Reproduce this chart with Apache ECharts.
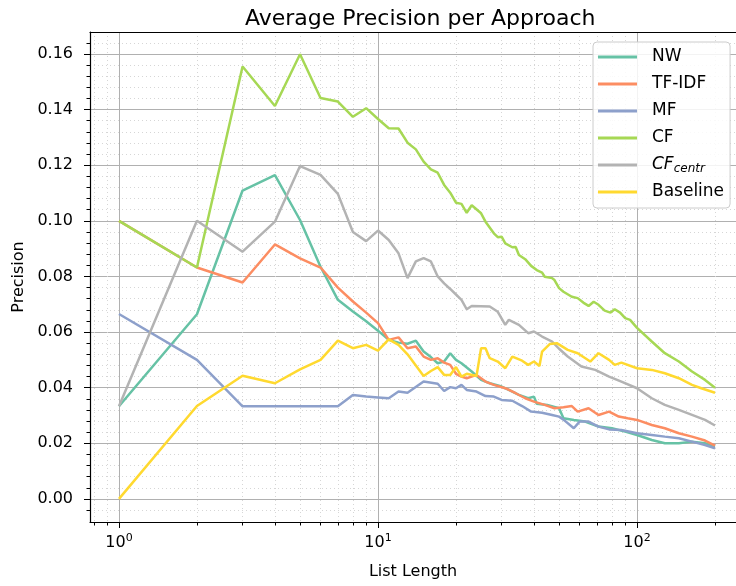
<!DOCTYPE html>
<html>
<head>
<meta charset="utf-8">
<script src="https://cdn.jsdelivr.net/npm/echarts@6/dist/echarts.min.js"></script>
<style>
html, body { margin: 0; padding: 0; background: #fff; }
#chart { width: 736px; height: 586px; }
</style>
</head>
<body>
<div id="chart"></div>
<script>
var seriesNames = ['NW', 'TF-IDF', 'MF', 'CF', 'CFcentr', 'Baseline'];
var colorList = ['#66c2a5', '#fc8d62', '#8da0cb', '#a6d854', '#b3b3b3', '#ffd92f'];

// [list length, precision]
var nwData = [[1,0.0333],[2,0.0664],[3,0.1109],[4,0.1164],[5,0.1003],[6,0.0835],[7,0.0716],[8,0.0674],[9,0.0639],[10,0.0605],
    [11,0.0572],[12,0.0562],[13,0.0558],[14,0.0569],[15,0.053],[16,0.051],[17,0.0488],[18,0.0494],[19,0.0524],[20,0.050],
    [21,0.0488],[23,0.0458],[25,0.0428],[27,0.0416],[30,0.0404],[32,0.0392],[35,0.0374],[38,0.0362],[40,0.0368],[41,0.0342],
    [45,0.0338],[50,0.0326],[52,0.0290],[57,0.0284],[63,0.0278],[71,0.026],[80,0.0254],[90,0.0242],[100,0.023],[114,0.0212],
    [128,0.020],[145,0.020],[163,0.0206],[183,0.020],[200,0.0188]];
var tfidfData = [[1,0.1],[2,0.0832],[3,0.0778],[4,0.0915],[5,0.0865],[6,0.0832],[7,0.076],[8,0.071],[9,0.067],[10,0.0632],
    [11,0.0572],[12,0.0581],[13,0.0542],[14,0.0548],[15,0.0512],[16,0.050],[17,0.0506],[18,0.0490],[19,0.0482],[20,0.0450],
    [21,0.044],[22,0.0434],[24,0.0446],[26,0.0422],[28,0.041],[31,0.0398],[34,0.038],[37,0.0362],[40,0.035],[44,0.0338],
    [48,0.0326],[52,0.033],[56,0.0334],[59,0.0314],[65,0.0326],[71,0.0302],[78,0.0314],[85,0.0296],[92,0.029],[100,0.0284],
    [114,0.0266],[128,0.0254],[145,0.0236],[163,0.0224],[183,0.021],[200,0.0192]];
var mfData = [[1,0.0665],[2,0.050],[3,0.0333],[4,0.0333],[5,0.0333],[6,0.0333],[7,0.0333],[8,0.0374],[9,0.0368],[10,0.0365],
    [11,0.0362],[12,0.0386],[13,0.0382],[15,0.0422],[17,0.0414],[18,0.0388],[19,0.0402],[20,0.0398],[21,0.041],[22,0.0392],
    [24,0.0386],[26,0.037],[28,0.0368],[30,0.0356],[33,0.0353],[36,0.0334],[39,0.0314],[43,0.031],[47,0.0302],[50,0.0296],
    [52,0.0285],[57,0.0254],[60,0.0278],[65,0.0278],[71,0.026],[78,0.025],[87,0.0248],[100,0.0236],[114,0.023],[128,0.0224],
    [145,0.0218],[163,0.0206],[183,0.0194],[200,0.0182]];
var cfData = [[1,0.1],[2,0.0832],[3,0.1555],[4,0.1413],[5,0.1599],[6,0.1442],[7,0.1429],[8,0.1374],[9,0.1405],[10,0.1366],
    [11,0.1333],[12,0.1332],[13,0.1281],[14,0.1257],[15,0.1213],[16,0.1185],[17,0.1173],[18,0.1129],[19,0.1101],[20,0.1065],
    [21,0.1061],[22,0.1029],[23,0.1056],[25,0.1027],[26,0.0997],[28,0.0955],[29,0.0941],[30,0.0943],[31,0.0919],[33,0.0905],
    [34,0.0906],[35,0.0877],[37,0.0862],[39,0.0838],[41,0.0823],[43,0.0814],[44,0.0799],[47,0.0794],[48,0.0787],[50,0.0758],
    [52,0.0745],[56,0.0727],[59,0.0722],[62,0.0706],[65,0.0694],[68,0.0709],[71,0.0698],[75,0.0677],[79,0.067],[82,0.0682],
    [86,0.067],[90,0.065],[94,0.0644],[100,0.0615],[114,0.0566],[128,0.0524],[145,0.0494],[163,0.0458],[183,0.0428],[200,0.040]];
var cfCentrData = [[1,0.0333],[2,0.1],[3,0.0889],[4,0.0997],[5,0.1197],[6,0.1165],[7,0.1097],[8,0.096],[9,0.0927],[10,0.0965],
    [11,0.0931],[12,0.0883],[13,0.0794],[14,0.0854],[15,0.0866],[16,0.0854],[17,0.080],[18,0.0775],[19,0.0755],[20,0.0735],
    [21,0.0716],[22,0.0682],[23,0.0694],[27,0.0692],[29,0.0673],[31,0.0626],[32,0.0644],[35,0.0626],[38,0.0596],[40,0.0602],
    [43,0.0584],[47,0.0566],[50,0.054],[54,0.0512],[61,0.0476],[69,0.0464],[78,0.044],[87,0.0422],[100,0.0398],[114,0.0362],
    [128,0.0338],[145,0.032],[163,0.0302],[183,0.0284],[200,0.0264]];
var baselineData = [[1,0],[2,0.0334],[3,0.0443],[4,0.0416],[5,0.0466],[6,0.050],[7,0.0569],[8,0.0542],[9,0.0554],[10,0.0533],
    [11,0.0574],[12,0.0554],[13,0.052],[14,0.048],[15,0.0442],[16,0.046],[17,0.0474],[18,0.0446],[19,0.0446],[20,0.0474],
    [21,0.044],[22,0.045],[24,0.0442],[25,0.0542],[26,0.0542],[27,0.0506],[29,0.0494],[31,0.047],[33,0.0512],[36,0.0497],
    [38,0.0482],[40,0.0494],[42,0.0478],[43,0.053],[46,0.0557],[49,0.056],[54,0.0536],[59,0.0524],[66,0.0494],[71,0.0524],
    [78,0.050],[82,0.0482],[87,0.049],[100,0.047],[114,0.0464],[128,0.0452],[145,0.0434],[163,0.041],[177,0.0398],[200,0.0382]];

var xMajorTicks = [1, 10, 100];
var xMinorTicks = [0.8, 0.9, 2, 3, 4, 5, 6, 7, 8, 9, 20, 30, 40, 50, 60, 70, 80, 90, 200];
var yMajorTicks = [0, 0.02, 0.04, 0.06, 0.08, 0.10, 0.12, 0.14, 0.16];
var yMinorTicks = [-0.004, 0.004, 0.008, 0.012, 0.016, 0.024, 0.028, 0.032, 0.036, 0.044, 0.048, 0.052, 0.056,
    0.064, 0.068, 0.072, 0.076, 0.084, 0.088, 0.092, 0.096, 0.104, 0.108, 0.112, 0.116, 0.124, 0.128, 0.132, 0.136,
    0.144, 0.148, 0.152, 0.156, 0.164];

var font = 'DejaVu Sans';
// plot is cut at the right edge of the picture, so the visible range ends before the matplotlib margin
var xMin = 0.773, xMax = 241;
var yMin = -0.0083, yMax = 0.1679;

var allData = [nwData, tfidfData, mfData, cfData, cfCentrData, baselineData];
var series = [];
for (var i = 0; i < seriesNames.length; i++) {
    series.push({
        name: seriesNames[i],
        type: 'line',
        xAxisIndex: 0,
        yAxisIndex: 0,
        showSymbol: false,
        symbol: 'none',
        lineStyle: { width: 2.5, color: colorList[i] },
        itemStyle: { color: colorList[i] },
        data: allData[i]
    });
}

var option = {
    animation: false,
    color: colorList,
    title: {
        text: 'Average Precision per Approach',
        left: 240,
        top: 3,
        textStyle: { fontFamily: font, fontSize: 22, fontWeight: 'normal', color: '#000' }
    },
    legend: {
        orient: 'vertical',
        left: 593,
        top: 42,
        padding: [5, 6, 6, 5],
        itemGap: 7,
        itemWidth: 39,
        itemHeight: 3,
        icon: 'rect',
        backgroundColor: 'rgba(255,255,255,0.85)',
        borderColor: '#cccccc',
        borderWidth: 1,
        borderRadius: 4,
        data: seriesNames,
        formatter: function (name) {
            return name === 'CFcentr' ? '{it|CF}{sub|centr}' : name;
        },
        textStyle: {
            fontFamily: font, fontSize: 17, color: '#000', lineHeight: 20, padding: [0, 0, 0, 10],
            rich: {
                it: { fontFamily: font, fontSize: 17, fontStyle: 'italic', color: '#000', lineHeight: 20 },
                sub: { fontFamily: font, fontSize: 12, fontStyle: 'italic', color: '#000', padding: [8, 0, 0, 0], lineHeight: 20 }
            }
        }
    },
    grid: {
        left: 90, top: 32, width: 646, height: 490,
        show: false
    },
    xAxis: [
        {
            type: 'log', logBase: 10, min: xMin, max: xMax, position: 'bottom',
            name: 'List Length', nameLocation: 'middle', nameGap: 42,
            nameTextStyle: { fontFamily: font, fontSize: 16, color: '#000' },
            axisLine: { show: true, onZero: false, lineStyle: { color: '#000', width: 1.2 } },
            axisTick: { show: true, length: 6, customValues: xMajorTicks, lineStyle: { color: '#000' } },
            axisLabel: {
                customValues: xMajorTicks, margin: 11, color: '#000',
                formatter: function (v) {
                    return '{b|10}{s|' + Math.round(Math.log10(v)) + '}';
                },
                rich: {
                    b: { fontFamily: font, fontSize: 16, color: '#000' },
                    s: { fontFamily: font, fontSize: 11, color: '#000', padding: [0, 0, 9, 0] }
                }
            },
            splitLine: { show: true, lineStyle: { color: '#b0b0b0', width: 1 } }
        },
        {
            type: 'log', logBase: 10, min: xMin, max: xMax, position: 'bottom',
            axisLine: { show: false, onZero: false },
            axisTick: { show: true, length: 3.5, customValues: xMinorTicks, lineStyle: { color: '#000' } },
            axisLabel: { show: false },
            splitLine: { show: true, lineStyle: { color: '#d6d6d6', width: 1, type: [1, 3] } }
        },
        {
            // top spine
            type: 'log', logBase: 10, min: xMin, max: xMax, position: 'top',
            axisLine: { show: true, onZero: false, lineStyle: { color: '#000', width: 1.2 } },
            axisTick: { show: false },
            axisLabel: { show: false },
            splitLine: { show: false }
        }
    ],
    yAxis: [
        {
            type: 'value', min: yMin, max: yMax, position: 'left',
            name: 'Precision', nameLocation: 'middle', nameGap: 62,
            nameTextStyle: { fontFamily: font, fontSize: 16, color: '#000' },
            axisLine: { show: true, onZero: false, lineStyle: { color: '#000', width: 1.2 } },
            axisTick: { show: true, length: 6, customValues: yMajorTicks, lineStyle: { color: '#000' } },
            axisLabel: {
                customValues: yMajorTicks, margin: 17,
                fontFamily: font, fontSize: 16, color: '#000',
                formatter: function (v) { return v.toFixed(2); }
            },
            splitLine: { show: true, lineStyle: { color: '#b0b0b0', width: 1 } }
        },
        {
            type: 'value', min: yMin, max: yMax, position: 'left',
            axisLine: { show: false, onZero: false },
            axisTick: { show: true, length: 3.5, customValues: yMinorTicks, lineStyle: { color: '#000' } },
            axisLabel: { show: false },
            splitLine: { show: true, lineStyle: { color: '#d6d6d6', width: 1, type: [1, 3] } }
        }
    ],
    series: series
};

var myChart = echarts.init(document.getElementById('chart'));
myChart.setOption(option);
</script>
</body>
</html>
